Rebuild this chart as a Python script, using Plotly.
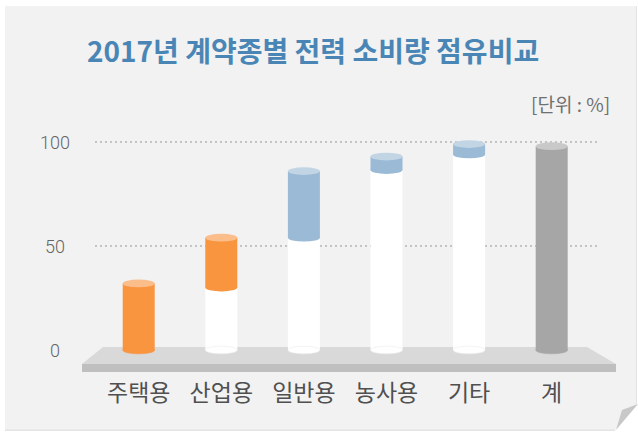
import plotly.graph_objects as go

# ---- data -------------------------------------------------------------
categories = ["주택용", "산업용", "일반용", "농사용", "기타", "계"]
seg_start = [0, 30, 54, 86.5, 94, 0]        # cumulative start of each segment (%)
seg_share = [32, 24, 32, 6.5, 5, 98]         # share of each segment (%)
y_ticks = [0, 50, 100]

# ---- styling ----------------------------------------------------------
W, H = 638, 432
body_colors = ["#f9943f", "#f9943f", "#9bbad5", "#9bbad5", "#9bbad5", "#a6a6a6"]
cap_colors = ["#fbbe8b", "#fbbe8b", "#c2d5e5", "#c2d5e5", "#c2d5e5", "#c9c9c9"]
BASE_COLOR = "#ffffff"
KR_FONT = "Noto Sans CJK KR"

# pixel layout helpers
XC0, DX = 138.7, 82.6          # pixel of first category, spacing
Y0, SY = 350.0, 2.08           # pixel of value 0, pixels per unit
PLOT_L, PLOT_R = 95, 600
PLOT_T, PLOT_B = 121, 375
BAR_W = 32 / DX
CAP_R = 1.85                   # vertical radius of cylinder caps (data units)


def px(x):
    return x / W


def py(y):
    return 1 - y / H


x_idx = list(range(len(categories)))

fig = go.Figure()

# white lower part of the cumulative bars
fig.add_trace(go.Bar(
    x=x_idx, y=seg_start, base=[0] * len(seg_start), width=BAR_W,
    marker=dict(color=BASE_COLOR, line=dict(width=0)),
    hoverinfo="skip", showlegend=False,
))
# coloured share segment
fig.add_trace(go.Bar(
    x=x_idx, y=seg_share, base=seg_start, width=BAR_W,
    marker=dict(color=body_colors, line=dict(width=0)),
    hoverinfo="skip", showlegend=False,
))

shapes = []

# background panel
shapes.append(dict(type="rect", xref="paper", yref="paper",
                   x0=px(5), x1=px(637), y0=py(431), y1=py(6),
                   fillcolor="#e4e4e4", line=dict(width=0), layer="below"))
shapes.append(dict(type="rect", xref="paper", yref="paper",
                   x0=px(5), x1=px(636), y0=py(429.5), y1=py(6),
                   fillcolor="#f2f2f2", line=dict(width=0), layer="below"))


def poly(points):
    return "M " + " L ".join(f"{px(a):.5f},{py(b):.5f}" for a, b in points) + " Z"


# floor platform: top face and front face
shapes.append(dict(type="path", xref="paper", yref="paper", layer="below",
                   path=poly([(103, 347), (587, 347), (616, 364), (82, 364)]),
                   fillcolor="#d9d9d9", line=dict(width=0)))
shapes.append(dict(type="path", xref="paper", yref="paper", layer="below",
                   path=poly([(82, 364), (616, 364), (616, 372), (82, 372)]),
                   fillcolor="#bfbfbf", line=dict(width=0)))

# cylinder caps
for i, (s, v) in enumerate(zip(seg_start, seg_share)):
    x0, x1 = i - BAR_W / 2, i + BAR_W / 2
    bottom_color = BASE_COLOR if s > 0 else body_colors[i]
    shapes.append(dict(type="circle", xref="x", yref="y", layer="above",
                       x0=x0, x1=x1, y0=-CAP_R, y1=CAP_R,
                       fillcolor=bottom_color,
                       line=dict(width=0.6, color="#ebebeb" if s > 0 else bottom_color)))
    if s > 0:
        shapes.append(dict(type="circle", xref="x", yref="y", layer="above",
                           x0=x0, x1=x1, y0=s - CAP_R, y1=s + CAP_R,
                           fillcolor=body_colors[i], line=dict(width=0)))
    top = s + v
    shapes.append(dict(type="circle", xref="x", yref="y", layer="above",
                       x0=x0, x1=x1, y0=top - CAP_R, y1=top + CAP_R,
                       fillcolor=cap_colors[i], line=dict(width=0)))

# folded page corner
shapes.append(dict(type="path", xref="paper", yref="paper", layer="above",
                   path=poly([(615, 432), (615, 430), (638, 403), (638, 432)]),
                   fillcolor="#ffffff", line=dict(width=0)))
shapes.append(dict(type="path", xref="paper", yref="paper", layer="above",
                   path=poly([(616, 430), (622, 410), (638, 404)]),
                   fillcolor="#c8c8c8", line=dict(width=0)))

annotations = [
    dict(text="<b>2017년 계약종별 전력 소비량 점유비교</b>", xref="paper", yref="paper",
         x=px(313), y=py(50), xanchor="center", yanchor="middle", showarrow=False,
         font=dict(family=KR_FONT, size=28, color="#4a86b5")),
    dict(text="[단위 : %]", xref="paper", yref="paper",
         x=px(612), y=py(103), xanchor="right", yanchor="middle", showarrow=False,
         font=dict(family=KR_FONT, size=19, color="#707070")),
]
for t in y_ticks:
    annotations.append(dict(text=str(t), xref="paper", yref="y", x=px(55), y=t,
                            xanchor="center", yanchor="middle", showarrow=False,
                            font=dict(family="Roboto", size=18, color="#666666",
                                      weight=300)))

fig.update_layout(
    width=W, height=H,
    margin=dict(l=0, r=0, t=0, b=0),
    paper_bgcolor="#ffffff",
    plot_bgcolor="rgba(0,0,0,0)",
    barmode="overlay",
    shapes=shapes,
    annotations=annotations,
    xaxis=dict(
        domain=[px(PLOT_L), px(PLOT_R)],
        range=[(PLOT_L - XC0) / DX, (PLOT_R - XC0) / DX],
        tickvals=x_idx, ticktext=categories,
        tickfont=dict(family=KR_FONT, size=23, color="#505050"),
        showgrid=False, zeroline=False, showline=False, ticks="",
        ticklabelstandoff=2,
    ),
    yaxis=dict(
        domain=[py(PLOT_B), py(PLOT_T)],
        range=[(Y0 - PLOT_B) / SY, (Y0 - PLOT_T) / SY],
        tickvals=[v for v in y_ticks if v > 0],
        showticklabels=False,
        showgrid=True, gridcolor="#c4c4c4", gridwidth=2, griddash="2px,3px",
        zeroline=False, showline=False, ticks="",
    ),
)

fig.write_html("out.html")
